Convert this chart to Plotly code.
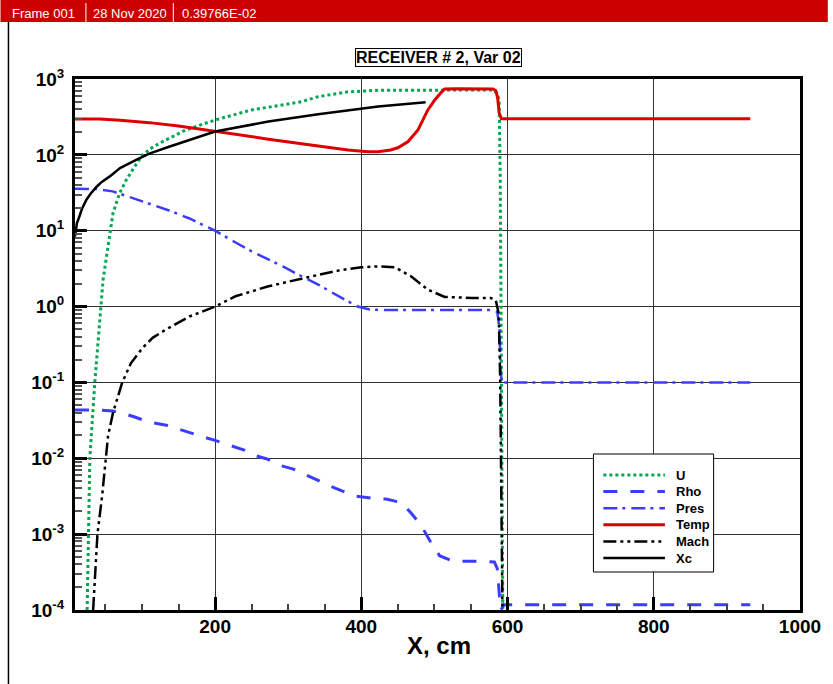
import plotly.graph_objects as go

# ---------------- data ----------------
series_names = ["U", "Rho", "Pres", "Temp", "Mach", "Xc"]

u_x = [25, 28.7, 35.5, 41.3, 43.7, 46.8, 56.8, 60.4, 69.5, 78.6, 90, 101, 112.6, 124, 160, 200, 250, 318, 341, 380, 423, 500, 580, 585, 588.5, 590, 591, 592, 593.5]
u_y = [1e-4, 1e-2, 1e-1, 0.5, 1.0, 2.26, 10, 17.1, 31.3, 46.9, 70, 100, 122, 142.6, 213, 288, 391, 501, 585, 675, 710, 716, 716, 660, 530, 50, 1, 1e-2, 1e-4]

rho_x = [8.4, 40, 60, 75, 90, 110, 135, 160, 181, 200, 223, 240, 253, 271, 288, 307, 325, 360, 390, 423, 434, 455, 468, 482, 494, 507, 525, 545, 566, 582, 586, 589, 591, 595, 932]
rho_y = [0.0432, 0.0432, 0.042, 0.039, 0.035, 0.030, 0.027, 0.0224, 0.0195, 0.0172, 0.0145, 0.0128, 0.011, 0.0098, 0.0081, 0.0072, 0.006, 0.0042, 0.0032, 0.0029, 0.0029, 0.0026, 0.0019, 0.0013, 0.00081, 0.00052, 0.00044, 0.00044, 0.00044, 0.00043, 0.00035, 0.00015, 1.0e-4, 1.17e-4, 1.17e-4]

pres_x = [8.4, 38, 60, 83, 106, 124, 137, 165, 188, 200, 228, 246, 264, 283, 296, 314, 341, 370, 395, 410, 430, 500, 580, 586, 589, 590.5, 592, 932]
pres_y = [35.7, 35.5, 33, 27.7, 23.5, 20.7, 18.5, 14.5, 11.5, 10, 7.0, 5.6, 4.6, 3.76, 3.26, 2.63, 1.95, 1.35, 1.0, 0.92, 0.9, 0.9, 0.9, 0.85, 0.5, 0.15, 0.1, 0.1]

temp_x = [8.4, 42, 70, 110, 150, 200, 240, 273, 341, 382, 409, 423, 440, 450, 464, 477.5, 491, 500.5, 509, 514, 530, 580, 584, 586.5, 588.5, 591.6, 932]
temp_y = [298, 297, 285, 266, 240, 203, 181, 161, 131, 116, 110, 110, 116, 124, 150, 213, 391, 529, 661, 738, 745, 740, 700, 560, 360, 300, 300]

mach_x = [33.2, 36.9, 39.1, 45.5, 50, 53.6, 60.4, 73, 85, 101, 115, 133, 165, 200, 228, 273, 332, 370, 400, 423, 446, 468, 491, 514, 550, 577, 584, 588, 590, 591, 593]
mach_y = [1e-4, 4.3e-4, 1e-3, 3.2e-3, 1e-2, 0.0197, 0.040, 0.1, 0.18, 0.287, 0.39, 0.5, 0.74, 1.0, 1.37, 1.85, 2.5, 3.0, 3.3, 3.39, 3.3, 2.5, 1.67, 1.34, 1.3, 1.3, 1.2, 0.8, 0.1, 1e-2, 1e-4]

xc_x = [8.4, 11, 15, 18, 24, 30, 38, 45, 56, 70, 92, 110, 137, 170, 200, 273, 341, 423, 488]
xc_y = [8.4, 12.5, 16, 19.5, 25.6, 31, 38, 44, 52, 67, 86, 104, 128, 165, 203, 275, 343, 433, 493]

x_tick_vals = [200, 400, 600, 800, 1000]
x_tick_text = ["200", "400", "600", "800", "1000"]
y_tick_vals = [1e-4, 1e-3, 1e-2, 1e-1, 1e0, 1e1, 1e2, 1e3]
y_tick_text = ["10<sup>-4</sup>", "10<sup>-3</sup>", "10<sup>-2</sup>", "10<sup>-1</sup>",
               "10<sup>0</sup>", "10<sup>1</sup>", "10<sup>2</sup>", "10<sup>3</sup>"]

title_text = "RECEIVER # 2, Var 02"
x_title = "X, cm"
header_texts = ["Frame 001", "28 Nov 2020", "0.39766E-02"]

# ---------------- styles ----------------
FONT = "Liberation Sans, Arial, sans-serif"
styles = {
    "U": dict(color="#00a650", width=3, dash="3px,3px"),
    "Rho": dict(color="#3c3cff", width=3, dash="14px,13px"),
    "Pres": dict(color="#3c3cff", width=2.5, dash="14px,5px,3px,6px"),
    "Temp": dict(color="#dd0000", width=3, dash="solid"),
    "Mach": dict(color="black", width=2.5, dash="13px,4px,3px,4px,3px,4px"),
    "Xc": dict(color="black", width=2.5, dash="solid"),
}
data = {
    "U": (u_x, u_y), "Rho": (rho_x, rho_y), "Pres": (pres_x, pres_y),
    "Temp": (temp_x, temp_y), "Mach": (mach_x, mach_y), "Xc": (xc_x, xc_y),
}

# plot area in pixels
L, T, W, H = 75, 79, 730, 531
FW, FH = 833, 684


def px(xp):
    return (xp - L) / W


def py(yp):
    return (T + H - yp) / H


fig = go.Figure()
for name in series_names:
    xs, ys = data[name]
    fig.add_trace(go.Scatter(x=xs, y=ys, mode="lines", name=name,
                             line=styles[name], showlegend=False))

minor_y = [k * 10 ** e for e in range(-4, 3) for k in range(2, 10)]
minor_x = [v for v in range(50, 1000, 50) if v % 200 != 0]

shapes = []
annotations = []

# header bar
shapes.append(dict(type="rect", xref="paper", yref="paper", x0=px(0), x1=px(FW),
                   y0=py(22), y1=py(0), fillcolor="#cc0000", line=dict(width=0), layer="above"))
for sx in (86, 174):
    shapes.append(dict(type="line", xref="paper", yref="paper", x0=px(sx), x1=px(sx),
                       y0=py(3), y1=py(22), line=dict(color="white", width=1)))
for tx, txt in zip((10, 91, 181), header_texts):
    annotations.append(dict(xref="paper", yref="paper", x=px(tx), y=py(13), xanchor="left",
                            yanchor="middle", text=txt, showarrow=False,
                            font=dict(family=FONT, size=13, color="white")))
# frame left line
shapes.append(dict(type="line", xref="paper", yref="paper", x0=px(8), x1=px(8),
                   y0=py(22), y1=py(FH), line=dict(color="black", width=1.5)))

# title
annotations.append(dict(xref="paper", yref="paper", x=px(441), y=py(57), xanchor="center",
                        yanchor="middle", text="<b>" + title_text + "</b>", showarrow=False,
                        bordercolor="black", borderwidth=1, borderpad=0, bgcolor="white",
                        font=dict(family=FONT, size=16, color="black")))

# x axis title
annotations.append(dict(xref="paper", yref="paper", x=px(441.5), y=py(645), xanchor="center",
                        yanchor="middle", text="<b>" + x_title + "</b>", showarrow=False,
                        font=dict(family=FONT, size=24, color="black")))

# custom legend
shapes.append(dict(type="rect", xref="paper", yref="paper", x0=px(597), x1=px(718),
                   y0=py(572), y1=py(454), fillcolor="white", line=dict(color="black", width=1),
                   layer="above"))
for i, name in enumerate(series_names):
    yy = 475 + i * 16.6
    st = styles[name]
    shapes.append(dict(type="line", xref="paper", yref="paper", x0=px(607), x1=px(669),
                       y0=py(yy), y1=py(yy),
                       line=dict(color=st["color"], width=st["width"], dash=st["dash"]),
                       layer="above"))
    annotations.append(dict(xref="paper", yref="paper", x=px(678), y=py(yy), xanchor="left",
                            yanchor="middle", text="<b>" + name + "</b>", showarrow=False,
                            font=dict(family=FONT, size=13, color="black")))

fig.update_layout(
    width=FW, height=FH,
    margin=dict(l=L, r=FW - L - W, t=T, b=FH - T - H, pad=0),
    paper_bgcolor="white", plot_bgcolor="white",
    font=dict(family=FONT, color="black"),
    shapes=shapes, annotations=annotations,
    showlegend=False,
    xaxis=dict(
        range=[8.4, 1000], tickmode="array", tickvals=x_tick_vals, ticktext=x_tick_text,
        ticks="inside", ticklen=13, tickwidth=3, tickcolor="black",
        showline=True, linewidth=3, linecolor="black", mirror=True,
        showgrid=True, gridcolor="#333333", gridwidth=1, zeroline=False,
        minor=dict(tickmode="array", tickvals=minor_x, ticks="inside", ticklen=6,
                   tickwidth=1.5, tickcolor="#444444", showgrid=False),
        tickfont=dict(family=FONT, size=19, color="black", weight="bold"),
        ticklabelstandoff=-3,
    ),
    yaxis=dict(
        type="log", range=[-4, 3], tickmode="array", tickvals=y_tick_vals, ticktext=y_tick_text,
        ticks="inside", ticklen=12, tickwidth=3, tickcolor="black",
        showline=True, linewidth=3, linecolor="black", mirror=True,
        showgrid=True, gridcolor="#333333", gridwidth=1, zeroline=False,
        minor=dict(tickmode="array", tickvals=minor_y, ticks="inside", ticklen=7,
                   tickwidth=2, tickcolor="#555555", showgrid=False),
        tickfont=dict(family=FONT, size=19, color="black", weight="bold"),
        ticklabelstandoff=4,
    ),
)

fig.write_html("out.html", config={"displayModeBar": False},
               post_script="document.body.style.margin='0';")
